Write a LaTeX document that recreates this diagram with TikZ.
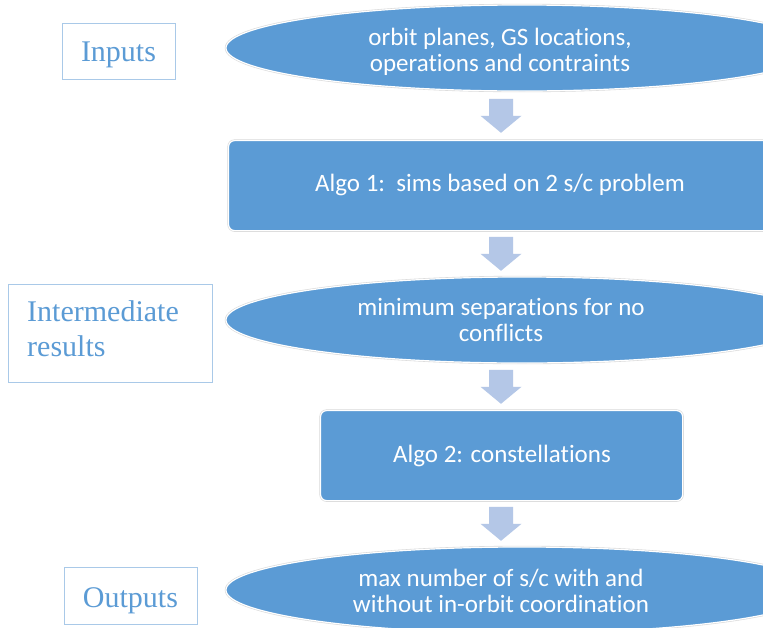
\documentclass[tikz,border=0pt]{standalone}
\usepackage{fontspec}
\newfontfamily\shapefont[Ligatures={NoCommon}]{Carlito}
\newfontfamily\tagfont{Liberation Serif}
\usetikzlibrary{shapes.geometric,calc}
\definecolor{boxblue}{HTML}{5B9BD5}
\definecolor{arrowblue}{HTML}{B4C7E7}
\definecolor{tagline}{HTML}{A9C9E8}
\tikzset{
  oval/.style={ellipse, fill=boxblue, draw=white, line width=1.2pt,
    preaction={draw=black!15, line width=2.4pt},
    minimum width=592pt, minimum height=86pt, inner sep=0pt},
  stepbox/.style={rectangle, rounded corners=6pt, fill=boxblue, draw=white, line width=1.2pt,
    preaction={draw=black!15, line width=2.4pt},
    minimum height=90pt, inner sep=0pt, anchor=north west},
  shapetext/.style={text=white, align=center, inner sep=0pt,
    font=\shapefont\fontsize{25}{26}\selectfont},
  tagbox/.style={rectangle, draw=tagline, line width=1pt, anchor=north west, inner sep=0pt},
  tagtext/.style={text=boxblue, font=\tagfont\fontsize{30}{33}\selectfont, inner sep=0pt},
  pics/downarrow/.style={code={
    \fill[arrowblue] (-12,-17) -- (12,-17) -- (12,0) -- (20.5,0) -- (0,17)
      -- (-20.5,0) -- (-12,0) -- cycle;}}
}
\begin{document}
\begin{tikzpicture}[x=1pt,y=-1pt]
  \clip (0,0) rectangle (763,627);
  \fill[white] (0,0) rectangle (763,627);

  % common vertical axis of the flow
  \coordinate (axis) at (501,0);

  % main flow shapes
  \node[oval] (e1) at (522,48) {};
  \node[shapetext] (t1) at (500,51.5) {orbit planes, GS locations,\\operations and contraints};

  \node[stepbox, minimum width=562pt] (r1) at (228,140) {};
  \node[shapetext, anchor=base] (t2) at (500,191) {Algo 1:\ \ sims based on 2 s/c problem};

  \node[oval] (e2) at (522,320) {};
  \node[shapetext] (t3) at (501,320) {minimum separations for no\\conflicts};

  \node[stepbox, minimum width=362pt] (r2) at (320,410) {};
  \node[shapetext, anchor=base] (t4) at (502,462) {Algo 2: constellations};

  \node[oval] (e3) at (522,590) {};
  \node[shapetext] (t5) at (501,591) {max number of s/c with and\\without in-orbit coordination};

  % block arrows between consecutive steps
  \coordinate (m1) at ($(e1.south)!0.5!(r1.north)$);
  \coordinate (m2) at ($(r1.south)!0.5!(e2.north)$);
  \coordinate (m3) at ($(e2.south)!0.5!(r2.north)$);
  \coordinate (m4) at ($(r2.south)!0.5!(e3.north)$);
  \pic at (axis |- m1) {downarrow};
  \pic at (axis |- m2) {downarrow};
  \pic at (axis |- m3) {downarrow};
  \pic at (axis |- m4) {downarrow};

  % side tags
  \node[tagbox, minimum width=113pt, minimum height=56pt] (g1) at (62,23) {};
  \node[tagtext, anchor=base] (l1) at (118.5,61) {Inputs};

  \node[tagbox, minimum width=204pt, minimum height=98pt] (g2) at (8,284) {};
  \node[tagtext, anchor=base west] (l2a) at (27,321) {Intermediate};
  \node[tagtext, anchor=base west] (l2b) at (27,356) {results};

  \node[tagbox, minimum width=133pt, minimum height=57pt] (g3) at (64,567) {};
  \node[tagtext, anchor=base] (l3) at (130.5,607) {Outputs};
\end{tikzpicture}
\end{document}
